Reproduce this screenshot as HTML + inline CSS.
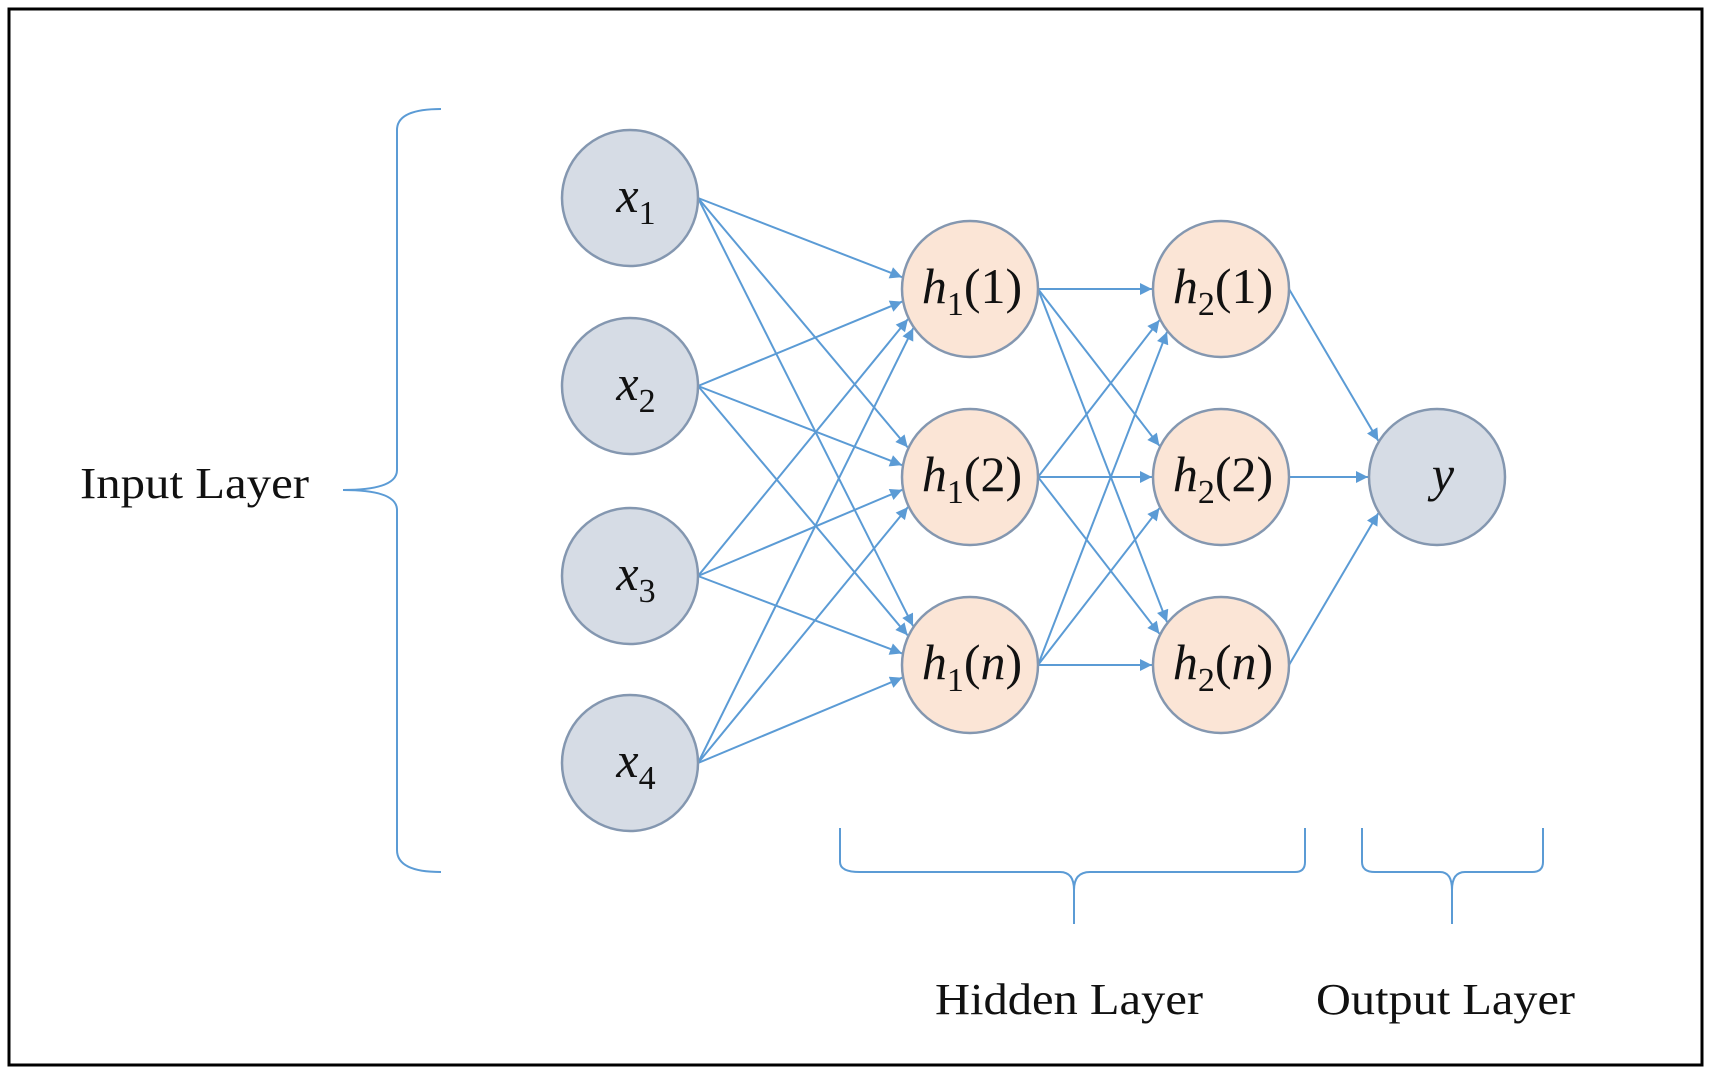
<!DOCTYPE html>
<html><head><meta charset="utf-8"><style>
html,body{margin:0;padding:0;background:#fff;}
svg{display:block;}
text{font-family:"Liberation Serif",serif;fill:#111;}
</style></head><body>
<svg id="s" width="1709" height="1072" viewBox="0 0 1709 1072" xmlns="http://www.w3.org/2000/svg">
<defs>
<marker id="b" viewBox="0 0 10 10" refX="10" refY="5" markerWidth="14" markerHeight="12" orient="auto" markerUnits="userSpaceOnUse"><path d="M0,0 L10,5 L0,10 z" fill="#5b9bd5"/></marker></defs>
<rect x="9" y="9" width="1693" height="1056" fill="#fff" stroke="#000" stroke-width="3"/>
<g id="edges" stroke="#5b9bd5" stroke-width="2" fill="none"></g>
<g id="nodes"></g>
<g fill="none" stroke="#5b9bd5" stroke-width="2">
<path d="M441,109 Q397,109 397,130 L397,470 Q397,490 343,490 Q397,490 397,510 L397,850 Q397,872 441,872"/>
<path d="M840,828 L840,862 Q840,872 860,872 L1060,872 Q1074,872 1074,890 L1074,924 M1074,890 Q1074,872 1090,872 L1295,872 Q1305,872 1305,862 L1305,828"/>
<path d="M1362,828 L1362,862 Q1362,872 1375,872 L1440,872 Q1452,872 1452,890 L1452,924 M1452,890 Q1452,872 1465,872 L1532,872 Q1543,872 1543,862 L1543,828"/>
</g>
<text x="80" y="498" font-size="44" textLength="229" lengthAdjust="spacingAndGlyphs">Input Layer</text>
<text x="935" y="1014" font-size="44" textLength="268" lengthAdjust="spacingAndGlyphs">Hidden Layer</text>
<text x="1316" y="1014" font-size="44" textLength="259" lengthAdjust="spacingAndGlyphs">Output Layer</text>
</svg>
<script>
var NS="http://www.w3.org/2000/svg",R=68;
var X=[[630,198],[630,386],[630,576],[630,763]];
var H1=[[970,289],[970,477],[970,665]];
var H2=[[1221,289],[1221,477],[1221,665]];
var Y=[[1437,477]];
var E=document.getElementById('edges'),N=document.getElementById('nodes');
function ln(a,b){var sx=a[0]+R,sy=a[1];
var tx=b[0]-R*0.55,ty=b[1];
var dx=tx-sx,dy=ty-sy,d=Math.hypot(dx,dy),ux=dx/d,uy=dy/d;
var fx=sx-b[0],fy=sy-b[1];var B=2*(fx*ux+fy*uy),C=fx*fx+fy*fy-(R+1)*(R+1);var disc=B*B-4*C;
var t=(-B-Math.sqrt(Math.max(disc,0)))/2;var ex=sx+ux*t,ey=sy+uy*t;
var l=document.createElementNS(NS,'line');l.setAttribute('x1',sx);l.setAttribute('y1',sy);l.setAttribute('x2',ex);l.setAttribute('y2',ey);l.setAttribute('marker-end','url(#b)');E.appendChild(l);}
X.forEach(a=>H1.forEach(b=>ln(a,b)));H1.forEach(a=>H2.forEach(b=>ln(a,b)));H2.forEach(a=>ln(a,Y[0]));
function node(c,f,lab,sub,arg){var e=document.createElementNS(NS,'circle');e.setAttribute('cx',c[0]);e.setAttribute('cy',c[1]);e.setAttribute('r',R);e.setAttribute('fill',f);e.setAttribute('stroke','#8497b0');e.setAttribute('stroke-width','2.5');N.appendChild(e);
var t=document.createElementNS(NS,'text');t.setAttribute('y',c[1]+14);t.setAttribute('font-size','50');t.setAttribute('text-anchor','middle');t.setAttribute('x',c[0]+(arg?2:6));
var h='<tspan font-style="italic">'+lab+'</tspan>';if(sub)h+='<tspan font-size="34" dy="12">'+sub+'</tspan>';
if(arg)h+='<tspan dy="-12">(</tspan><tspan font-style="'+(arg=='n'?'italic':'normal')+'">'+arg+'</tspan><tspan>)</tspan>';
t.innerHTML=h;N.appendChild(t);}
X.forEach((c,i)=>node(c,'#d6dce5','x',String(i+1)));
['1','2','n'].forEach((a,i)=>{node(H1[i],'#fbe5d6','h','1',a);node(H2[i],'#fbe5d6','h','2',a);});
node(Y[0],'#d6dce5','y','','');
</script>
</body></html>
